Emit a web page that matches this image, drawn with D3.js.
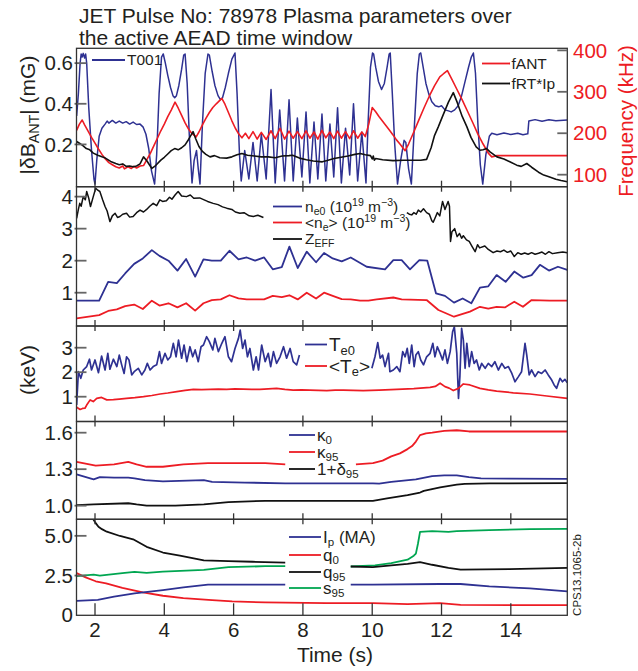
<!DOCTYPE html>
<html>
<head>
<meta charset="utf-8">
<script src="https://cdn.jsdelivr.net/npm/d3@7/dist/d3.min.js"></script>
<style>
  html, body { margin: 0; padding: 0; background: #fff; }
  svg { display: block; font-family: "Liberation Sans", Arial, Helvetica, sans-serif; }
</style>
</head>
<body>
<svg id="chart" width="638" height="671"></svg>
<script>
// ---------------- data ----------------
const titleLines = ["JET Pulse No: 78978 Plasma parameters over", "the active AEAD time window"];
const timeTicks = [2, 4, 6, 8, 10, 12, 14];

// Panel 1: antenna response amplitude (mG, left axis) and frequencies (kHz, right axis)
const t001 = [[1.47,0.34],[1.52,0.45],[1.57,0.6],[1.6,0.645],[1.63,0.63],[1.66,0.648],[1.7,0.625],[1.73,0.645],[1.76,0.6],[1.82,0.38],[1.9,0.17],[1.97,0.03],[2.0,0.005],[2.05,0.12],[2.12,0.24],[2.2,0.28],[2.29,0.3],[2.35,0.315],[2.4,0.305],[2.5,0.318],[2.6,0.305],[2.7,0.315],[2.8,0.305],[2.9,0.312],[3.0,0.3],[3.1,0.31],[3.2,0.298],[3.3,0.3],[3.39,0.285],[3.47,0.25],[3.55,0.18],[3.63,0.07],[3.72,0.005],[3.78,0.15],[3.85,0.45],[3.92,0.63],[3.97,0.645],[4.03,0.6],[4.1,0.54],[4.18,0.48],[4.25,0.44],[4.3,0.43],[4.35,0.44],[4.42,0.49],[4.5,0.57],[4.56,0.64],[4.6,0.645],[4.66,0.5],[4.72,0.25],[4.8,0.01],[4.86,0.12],[4.93,0.17],[4.98,0.08],[5.03,0.005],[5.1,0.3],[5.18,0.55],[5.26,0.645],[5.3,0.64],[5.38,0.56],[5.46,0.49],[5.55,0.44],[5.62,0.42],[5.68,0.43],[5.76,0.48],[5.85,0.55],[5.95,0.62],[6.04,0.65],[6.1,0.45],[6.17,0.15],[6.22,0.02],[6.32,0.17],[6.44,0.03],[6.56,0.21],[6.68,0.02],[6.8,0.25],[6.94,0.03],[7.08,0.47],[7.2,0.01],[7.33,0.37],[7.47,0.02],[7.6,0.42],[7.72,0.02],[7.84,0.33],[7.97,0.04],[8.09,0.36],[8.2,0.01],[8.32,0.31],[8.43,0.03],[8.55,0.35],[8.66,0.02],[8.78,0.3],[8.89,0.04],[9.0,0.38],[9.11,0.01],[9.23,0.28],[9.35,0.05],[9.46,0.4],[9.58,0.02],[9.7,0.26],[9.82,0.01],[9.88,0.3],[9.95,0.58],[10.01,0.65],[10.04,0.645],[10.1,0.58],[10.18,0.51],[10.27,0.47],[10.35,0.5],[10.43,0.58],[10.49,0.645],[10.52,0.65],[10.58,0.45],[10.65,0.2],[10.73,0.005],[10.82,0.12],[10.92,0.22],[10.97,0.21],[11.05,0.08],[11.13,0.005],[11.22,0.3],[11.3,0.55],[11.36,0.645],[11.4,0.65],[11.47,0.58],[11.55,0.5],[11.63,0.45],[11.72,0.41],[11.82,0.39],[11.92,0.385],[12.0,0.39],[12.1,0.37],[12.2,0.365],[12.28,0.36],[12.38,0.37],[12.48,0.39],[12.58,0.44],[12.68,0.51],[12.78,0.58],[12.86,0.63],[12.92,0.65],[12.98,0.55],[13.05,0.3],[13.12,0.1],[13.19,0.005],[13.28,0.15],[13.38,0.24],[13.45,0.255],[13.6,0.248],[13.8,0.256],[14.0,0.249],[14.2,0.255],[14.35,0.248],[14.49,0.252],[14.52,0.315],[14.7,0.322],[14.9,0.314],[15.1,0.321],[15.3,0.316],[15.63,0.32]];
const fAnt = [[1.47,207],[1.55,222],[1.63,232],[1.7,220],[1.8,205],[1.9,190],[2.0,176],[2.1,162],[2.2,149],[2.3,138],[2.4,129],[2.5,124],[2.6,119],[2.7,116],[2.8,121],[2.85,114],[2.95,119],[3.05,115],[3.12,120],[3.2,116],[3.3,121],[3.4,122],[3.5,137],[3.6,152],[3.7,170],[3.8,188],[3.9,206],[4.0,222],[4.1,240],[4.2,256],[4.31,275],[4.4,261],[4.5,243],[4.6,225],[4.7,210],[4.8,199],[4.92,191],[5.0,203],[5.1,220],[5.2,236],[5.3,250],[5.4,262],[5.5,271],[5.66,284],[5.75,270],[5.85,250],[5.95,230],[6.05,212],[6.15,198],[6.24,189],[6.34,200],[6.44,187],[6.56,204],[6.68,186],[6.8,202],[6.94,185],[7.08,206],[7.2,187],[7.34,212],[7.47,186],[7.6,205],[7.72,188],[7.84,204],[7.97,187],[8.09,206],[8.2,188],[8.32,203],[8.43,186],[8.55,207],[8.66,189],[8.78,203],[8.89,187],[9.0,205],[9.11,188],[9.23,204],[9.35,187],[9.46,206],[9.58,188],[9.7,203],[9.8,192],[9.9,222],[10.0,262],[10.1,252],[10.2,240],[10.3,229],[10.4,218],[10.5,207],[10.6,196],[10.7,184],[10.8,174],[10.95,158],[11.05,174],[11.2,203],[11.35,233],[11.5,262],[11.65,290],[11.8,315],[11.95,336],[12.05,343],[12.17,351],[12.3,330],[12.45,305],[12.6,280],[12.75,253],[12.9,226],[13.05,198],[13.2,174],[13.35,152],[13.45,143],[13.6,146],[14.0,146],[14.5,146],[15.0,146],[15.63,146]];
const fRtIp = [[1.47,180],[1.55,176],[1.65,170],[1.75,163],[1.85,160],[1.95,152],[2.08,147],[2.2,143],[2.3,140],[2.45,132],[2.6,127],[2.7,124],[2.8,126],[2.9,120],[3.0,121],[3.1,119],[3.2,121],[3.3,126],[3.4,143],[3.5,133],[3.64,115],[3.75,122],[3.9,135],[4.0,142],[4.1,150],[4.2,158],[4.3,163],[4.4,160],[4.5,165],[4.6,172],[4.7,185],[4.83,204],[4.9,188],[5.0,168],[5.1,156],[5.2,149],[5.32,143],[5.45,146],[5.6,141],[5.8,140],[5.95,143],[6.1,148],[6.24,151],[6.4,147],[6.6,145],[6.8,143],[7.0,143],[7.2,141],[7.4,145],[7.6,146],[7.7,147],[7.9,140],[8.1,136],[8.3,133],[8.56,131],[8.7,134],[8.9,139],[9.1,142],[9.3,145],[9.5,149],[9.65,151],[9.8,148],[9.95,146],[10.0,138],[10.03,145],[10.06,135],[10.1,139],[10.3,136],[10.6,134],[10.9,135],[11.2,135],[11.4,135],[11.57,137],[11.7,165],[11.8,195],[11.91,216],[12.05,245],[12.2,275],[12.34,298],[12.45,275],[12.6,240],[12.73,216],[12.85,190],[13.0,167],[13.11,159],[13.2,160],[13.3,163],[13.4,155],[13.6,143],[13.8,138],[14.0,130],[14.17,123],[14.3,120],[14.46,127],[14.6,118],[14.8,106],[14.95,99],[15.1,95],[15.3,89],[15.45,86],[15.63,83]];

// Panel 2: densities (10^19 m^-3) and Z_EFF
const ne0 = [[1.47,0.75],[2.12,0.75],[2.38,1.34],[2.63,1.3],[2.87,1.6],[3.13,1.9],[3.38,2.07],[3.64,2.33],[3.86,2.15],[4.12,2.0],[4.38,1.69],[4.63,2.05],[4.89,1.5],[5.13,2.04],[5.37,2.0],[5.63,2.0],[5.88,2.31],[6.14,2.04],[6.38,2.1],[6.62,2.0],[6.88,2.1],[7.13,1.73],[7.39,1.8],[7.61,2.44],[7.85,1.77],[8.11,2.28],[8.38,1.95],[8.61,2.24],[8.86,2.07],[9.12,1.98],[9.38,2.1],[9.84,1.81],[10.37,1.73],[10.61,2.02],[10.85,2.02],[11.09,1.73],[11.36,2.02],[11.59,2.0],[11.84,0.98],[12.1,0.9],[12.36,0.69],[12.61,0.82],[12.86,0.67],[13.11,1.16],[13.35,1.2],[13.59,1.55],[13.85,1.34],[14.1,1.66],[14.36,1.47],[14.6,1.55],[14.84,1.87],[15.1,1.69],[15.36,1.81],[15.63,1.71]];
const neAvg = [[1.47,0.2],[2.12,0.3],[2.38,0.43],[2.63,0.48],[2.87,0.58],[3.13,0.63],[3.38,0.49],[3.64,0.75],[3.86,0.6],[4.12,0.67],[4.38,0.54],[4.63,0.67],[4.89,0.44],[5.13,0.67],[5.37,0.77],[5.63,0.79],[5.88,0.92],[6.14,0.82],[6.38,0.79],[6.88,0.79],[7.13,0.9],[7.39,0.86],[7.61,0.92],[7.85,0.79],[8.11,1.0],[8.38,0.82],[8.61,1.0],[8.86,0.9],[9.12,0.8],[9.38,0.79],[9.65,0.75],[9.89,0.75],[10.13,0.79],[10.61,0.85],[10.85,0.79],[11.57,0.77],[11.91,0.46],[12.36,0.25],[12.82,0.41],[13.11,0.56],[13.35,0.5],[13.59,0.56],[13.83,0.54],[14.1,0.72],[14.35,0.56],[14.6,0.77],[15.12,0.75],[15.63,0.75]];
const zEff = [[1.47,3.32],[1.52,3.6],[1.56,3.79],[1.6,3.7],[1.66,4.0],[1.72,3.9],[1.76,4.16],[1.82,3.95],[1.87,3.69],[1.95,4.0],[2.02,4.26],[2.08,4.2],[2.14,4.16],[2.22,3.9],[2.29,3.69],[2.35,3.55],[2.43,3.22],[2.5,3.4],[2.58,3.48],[2.65,3.35],[2.72,3.38],[2.8,3.45],[2.91,3.48],[3.0,3.36],[3.1,3.38],[3.2,3.5],[3.3,3.58],[3.4,3.52],[3.49,3.6],[3.58,3.7],[3.68,3.79],[3.78,3.72],[3.87,3.9],[3.95,3.85],[4.06,3.87],[4.15,3.98],[4.22,3.92],[4.31,4.05],[4.4,4.16],[4.5,4.02],[4.64,4.0],[4.75,4.05],[4.85,3.95],[5.02,3.96],[5.15,3.9],[5.25,3.85],[5.41,3.79],[5.55,3.75],[5.68,3.68],[5.8,3.64],[5.95,3.6],[6.05,3.52],[6.18,3.48],[6.3,3.5],[6.45,3.4],[6.57,3.38],[6.7,3.42],[6.86,3.35],null,[11.0,3.5],[11.07,3.45],[11.14,3.43],[11.2,3.5],[11.27,3.45],[11.33,3.58],[11.4,3.52],[11.48,3.62],[11.57,3.5],[11.65,3.45],[11.72,3.25],[11.76,3.2],[11.82,3.35],[11.88,3.5],[11.95,3.4],[12.03,3.85],[12.1,3.6],[12.19,3.85],[12.23,3.7],[12.26,2.6],[12.3,2.9],[12.38,3.0],[12.45,2.75],[12.52,2.85],[12.58,2.7],[12.63,2.78],[12.72,2.65],[12.8,2.6],[12.88,2.45],[12.97,2.28],[13.04,2.5],[13.1,2.4],[13.25,2.46],[13.35,2.35],[13.49,2.25],[13.6,2.3],[13.7,2.28],[13.8,2.33],[13.9,2.26],[14.0,2.3],[14.1,2.13],[14.2,2.25],[14.3,2.2],[14.4,2.24],[14.5,2.2],[14.6,2.25],[14.7,2.2],[14.8,2.23],[14.9,2.27],[15.0,2.2],[15.1,2.28],[15.2,2.22],[15.35,2.25],[15.5,2.27],[15.63,2.25]];

// Panel 3: electron temperatures (keV)
const te0 = [[1.47,0.66],[1.52,2.02],[1.59,1.75],[1.66,2.09],[1.76,2.23],[1.84,2.53],[1.9,2.09],[2.0,2.5],[2.1,1.98],[2.19,2.66],[2.29,2.09],[2.37,2.77],[2.43,2.12],[2.53,2.53],[2.63,2.23],[2.7,2.7],[2.77,2.3],[2.84,1.95],[2.91,2.63],[2.98,2.5],[3.06,1.89],[3.13,2.02],[3.25,2.16],[3.35,1.89],[3.44,2.09],[3.51,2.36],[3.59,2.09],[3.68,2.23],[3.78,2.3],[3.86,2.84],[3.92,2.36],[4.02,2.77],[4.1,2.5],[4.18,2.63],[4.26,3.18],[4.34,2.63],[4.41,3.31],[4.5,2.57],[4.57,3.11],[4.65,2.43],[4.74,3.04],[4.82,2.63],[4.89,2.91],[4.98,2.43],[5.06,3.04],[5.13,3.11],[5.22,3.45],[5.3,3.25],[5.4,2.91],[5.46,3.38],[5.56,2.84],[5.66,3.18],[5.75,3.45],[5.85,2.63],[5.94,2.43],[6.04,2.97],[6.14,3.38],[6.19,3.72],[6.26,2.97],[6.33,3.31],[6.4,2.63],[6.47,2.97],[6.57,2.09],[6.65,2.63],[6.72,2.09],[6.81,3.11],[6.91,2.43],[7.0,2.77],[7.07,2.23],[7.15,2.84],[7.24,2.36],[7.34,2.63],[7.44,3.04],[7.53,2.57],[7.63,2.97],[7.72,2.43],[7.82,2.3],[7.9,2.7],null,[9.99,2.16],[10.08,2.63],[10.16,3.21],[10.23,2.57],[10.3,2.7],[10.37,2.23],[10.47,2.77],[10.51,2.02],[10.61,2.09],[10.71,2.23],[10.8,2.02],[10.88,2.84],[10.95,2.63],[11.01,2.97],[11.07,2.36],[11.14,3.11],[11.21,2.23],[11.26,2.7],[11.33,2.84],[11.4,2.5],[11.48,2.3],[11.57,2.63],[11.67,2.77],[11.75,3.18],[11.81,2.63],[11.88,3.04],[11.96,2.77],[12.03,2.5],[12.1,2.91],[12.17,2.36],[12.25,2.84],[12.32,3.65],[12.37,3.85],[12.44,2.77],[12.49,0.93],[12.53,1.82],[12.58,3.79],[12.63,3.31],[12.68,2.16],[12.73,3.18],[12.8,2.23],[12.87,2.84],[12.94,2.36],[13.01,2.5],[13.09,2.09],[13.16,2.36],[13.26,2.16],[13.35,2.36],[13.45,2.23],[13.54,2.43],[13.64,2.09],[13.74,2.36],[13.83,2.16],[13.93,2.23],[14.03,1.95],[14.12,1.61],[14.22,1.82],[14.31,2.02],[14.41,3.18],[14.46,2.7],[14.53,1.89],[14.6,2.09],[14.7,1.82],[14.79,2.02],[14.89,1.95],[14.99,2.09],[15.08,1.89],[15.18,1.68],[15.25,1.48],[15.32,1.34],[15.42,1.75],[15.49,1.61],[15.56,1.71],[15.63,1.57]];
const teAvg = [[1.47,0.57],[1.57,0.48],[1.64,0.52],[1.71,0.53],[1.76,0.66],[1.86,0.87],[1.95,0.8],[2.05,0.93],[2.19,0.97],[2.34,0.87],[2.53,0.88],[2.7,0.9],[2.91,0.93],[3.15,0.96],[3.4,1.0],[3.64,1.05],[3.88,1.11],[4.1,1.15],[4.36,1.21],[4.6,1.26],[4.84,1.3],[5.08,1.29],[5.32,1.3],[5.56,1.31],[5.8,1.3],[6.04,1.32],[6.28,1.31],[6.52,1.3],[6.76,1.3],[7.0,1.32],[7.24,1.34],[7.48,1.3],[7.72,1.27],[7.96,1.28],[8.2,1.27],[8.44,1.26],[8.69,1.25],[8.93,1.27],[9.17,1.27],[9.45,1.26],[9.74,1.25],[10.2,1.27],[10.71,1.3],[11.2,1.33],[11.67,1.38],[11.82,1.42],[11.96,1.55],[12.1,1.41],[12.22,1.35],[12.34,1.25],[12.49,1.34],[12.63,1.52],[12.82,1.48],[13.11,1.34],[13.35,1.28],[13.59,1.23],[14.07,1.16],[14.55,1.11],[15.04,1.03],[15.63,0.93]];

// Panel 4: shape parameters
const kappa0 = [[1.47,1.257],[1.96,1.216],[2.14,1.235],[2.55,1.23],[2.96,1.23],[3.14,1.225],[3.44,1.21],[3.96,1.2],[5.14,1.21],[5.38,1.195],[6.32,1.19],[7.49,1.184],[8.67,1.184],[10.02,1.184],[10.2,1.181],[10.55,1.195],[11.26,1.216],[11.73,1.243],[12.08,1.249],[12.44,1.249],[12.79,1.235],[13.14,1.224],[13.96,1.222],[15.63,1.22]];
const kappa95 = [[1.47,1.36],[2.02,1.33],[2.55,1.34],[2.96,1.36],[3.2,1.34],[3.49,1.32],[3.96,1.32],[4.55,1.34],[5.26,1.35],[5.96,1.35],[6.91,1.35],[7.49,1.34],null,[9.53,1.34],[10.02,1.35],[10.3,1.37],[10.55,1.405],[10.8,1.43],[11.02,1.465],[11.15,1.49],[11.26,1.527],[11.38,1.58],[11.55,1.595],[11.73,1.6],[12.08,1.615],[12.44,1.62],[12.79,1.61],[13.02,1.61],[13.96,1.61],[15.63,1.61]];
const delta95 = [[1.47,1.005],[1.96,1.01],[2.96,1.02],[3.2,1.01],[3.49,1.0],[4.32,1.0],[5.14,1.01],[5.85,1.03],[6.91,1.04],[8.67,1.04],[10.02,1.04],[10.43,1.06],[11.02,1.086],[11.38,1.108],[11.49,1.122],[11.96,1.15],[12.44,1.173],[12.67,1.18],[13.38,1.183],[15.63,1.186]];

// Panel 5: plasma current (MA) and safety factors
const ip = [[1.47,0.91],[2.08,0.97],[2.55,1.17],[3.14,1.38],[3.96,1.59],[4.55,1.76],[5.26,1.93],[6.32,1.93],[7.49,1.93],null,[9.38,1.93],[10.02,1.93],[11.96,1.97],[12.55,1.97],[13.38,1.82],[14.55,1.69],[15.63,1.5]];
const q0 = [[1.47,2.65],[1.73,2.39],[2.02,2.14],[2.32,2.01],[2.79,1.72],[3.38,1.44],[3.96,1.23],[4.55,1.08],[5.38,0.95],[5.96,0.87],[6.91,0.81],[8.67,0.76],[10.02,0.76],[11.02,0.7],[11.96,0.76],[12.55,0.66],[13.96,0.64],[15.63,0.64]];
const q95 = [[1.95,6.04],[2.02,5.8],[2.1,5.57],[2.2,5.42],[2.34,5.26],[2.72,4.99],[3.1,4.78],[3.49,4.31],[3.96,3.95],[4.45,3.75],[5.14,3.45],[5.85,3.41],[6.55,3.37],[7.49,3.31],null,[9.38,3.07],[10.02,3.03],[10.55,3.14],[11.02,3.24],[11.38,3.35],[11.73,3.18],[12.2,2.99],[12.55,2.88],[13.96,2.9],[15.63,2.99]];
const s95 = [[1.47,2.46],[1.96,2.56],[2.14,2.5],[2.79,2.65],[3.14,2.73],[3.49,2.67],[3.96,2.75],[5.14,2.86],[5.85,3.03],[6.91,3.09],[7.49,3.09],null,[9.38,3.07],[10.08,3.14],[10.55,3.28],[11.02,3.5],[11.2,3.75],[11.26,3.88],[11.32,4.5],[11.38,5.25],[11.73,5.3],[12.2,5.25],[12.44,5.3],[13.38,5.36],[14.55,5.42],[15.63,5.44]];

const leftTickValues = [[0.2,0.4,0.6],[1,2,3,4],[1,2,3],[1.0,1.3,1.6],[0,2.5,5.0]];
const leftTickLabels = [["0.2","0.4","0.6"],["1","2","3","4"],["1","2","3"],["1.0","1.3","1.6"],["0","2.5","5.0"]];
const freqTickValues = [100, 200, 300, 400];

// ---------------- layout ----------------
const BLUE = "#2e3192", RED = "#ed1c24", BLACK = "#111", GREEN = "#00a651";
const X0 = 76.5, X1 = 567.3;
const panels = [
  {top: 48.3,  bottom: 186.7, domain: [-0.008, 0.673]},
  {top: 186.7, bottom: 326,   domain: [-0.04, 4.31]},
  {top: 326,   bottom: 421.5, domain: [-0.012, 3.886]},
  {top: 421.5, bottom: 519.3, domain: [0.888, 1.692]},
  {top: 519.3, bottom: 615.3, domain: [0, 6.04]}
];

const svg = d3.select("#chart");
const x = d3.scaleLinear().domain([1.466, 15.63]).range([X0, X1]);
panels.forEach(p => { p.y = d3.scaleLinear().domain(p.domain).range([p.bottom, p.top]); });
const yFreq = d3.scaleLinear().domain([71, 405]).range([panels[0].bottom, panels[0].top]);

// rich text helper: parts are strings or [text, "sub"|"sup"]
function rich(textSel, parts, fs) {
  let shift = 0;
  parts.forEach(p => {
    const [str, kind] = typeof p === "string" ? [p, ""] : p;
    const target = kind === "sub" ? 0.18 : kind === "sup" ? -0.38 : 0;
    const ts = textSel.append("tspan").text(str);
    if (kind) ts.attr("font-size", (fs * 0.68).toFixed(2) + "px");
    const dy = (target - shift) * fs;
    if (dy !== 0) ts.attr("dy", dy.toFixed(2));
    shift = target;
  });
}

// clip paths
const defs = svg.append("defs");
panels.forEach((p, i) => {
  defs.append("clipPath").attr("id", "clip" + i)
    .append("rect").attr("x", X0).attr("y", p.top).attr("width", X1 - X0).attr("height", p.bottom - p.top);
});

function drawSeries(i, data, yScale, color, width) {
  const line = d3.line().defined(d => d !== null).x(d => x(d[0])).y(d => yScale(d[1]));
  svg.append("path").attr("clip-path", `url(#clip${i})`)
    .attr("d", line(data)).attr("fill", "none").attr("stroke", color)
    .attr("stroke-width", width).attr("stroke-linejoin", "round");
}

// series
drawSeries(0, t001, panels[0].y, BLUE, 1.5);
drawSeries(0, fAnt, yFreq, RED, 1.6);
drawSeries(0, fRtIp, yFreq, BLACK, 1.6);
drawSeries(1, zEff, panels[1].y, BLACK, 1.5);
drawSeries(1, ne0, panels[1].y, BLUE, 1.8);
drawSeries(1, neAvg, panels[1].y, RED, 1.8);
drawSeries(2, te0, panels[2].y, BLUE, 1.7);
drawSeries(2, teAvg, panels[2].y, RED, 1.7);
drawSeries(3, kappa95, panels[3].y, RED, 1.8);
drawSeries(3, kappa0, panels[3].y, BLUE, 1.8);
drawSeries(3, delta95, panels[3].y, BLACK, 1.8);
drawSeries(4, q0, panels[4].y, RED, 1.8);
drawSeries(4, ip, panels[4].y, BLUE, 1.8);
drawSeries(4, s95, panels[4].y, GREEN, 1.8);
drawSeries(4, q95, panels[4].y, BLACK, 1.8);

// frames and ticks
panels.forEach((p, i) => {
  const g = svg.append("g");
  const last = i === panels.length - 1;
  // time ticks (inward at bottom, and at top for lower panels)
  timeTicks.forEach(t => {
    g.append("line").attr("x1", x(t)).attr("x2", x(t))
      .attr("y1", p.bottom).attr("y2", p.bottom - (last ? 12 : 6))
      .attr("stroke", "#333").attr("stroke-width", 1.3);
    if (i > 0) g.append("line").attr("x1", x(t)).attr("x2", x(t))
      .attr("y1", p.top).attr("y2", p.top + 5)
      .attr("stroke", "#333").attr("stroke-width", 1.3);
  });
  // left value ticks
  leftTickValues[i].forEach((v, k) => {
    const yy = p.y(v);
    if (!(last && v === 0)) {
      g.append("line").attr("x1", X0 - 2).attr("x2", X0 + 10).attr("y1", yy).attr("y2", yy)
        .attr("stroke", "#666").attr("stroke-width", 1.8);
    }
    g.append("text").attr("x", 73).attr("y", yy).attr("dy", "0.35em")
      .attr("text-anchor", "end").attr("font-size", 20.5).attr("fill", "#231f20")
      .text(leftTickLabels[i][k]);
  });
  g.append("rect").attr("x", X0).attr("y", p.top).attr("width", X1 - X0).attr("height", p.bottom - p.top)
    .attr("fill", "none").attr("stroke", "#333").attr("stroke-width", 1.3);
});

// right frequency axis on the first panel
freqTickValues.forEach(v => {
  const yy = yFreq(v);
  svg.append("line").attr("x1", X1 - 10).attr("x2", X1).attr("y1", yy).attr("y2", yy)
    .attr("stroke", "#666").attr("stroke-width", 1.8);
  svg.append("text").attr("x", 573).attr("y", yy).attr("dy", "0.35em")
    .attr("font-size", 20.5).attr("fill", RED).text(v);
});

// time labels
timeTicks.forEach(t => {
  svg.append("text").attr("x", x(t)).attr("y", 636.5).attr("text-anchor", "middle")
    .attr("font-size", 20.5).attr("fill", "#231f20").text(t);
});
svg.append("text").attr("x", 335).attr("y", 662).attr("text-anchor", "middle")
  .attr("font-size", 21).attr("fill", "#231f20").text("Time (s)");

// title
titleLines.forEach((s, k) => {
  svg.append("text").attr("x", 79).attr("y", 23 + k * 21.5).attr("font-size", 21)
    .attr("fill", "#231f20").text(s);
});

// axis titles
const yt1 = svg.append("text").attr("transform", "translate(28,115) rotate(-90)")
  .attr("text-anchor", "middle").attr("dy", "0.35em").attr("font-size", 21).attr("fill", "#231f20");
rich(yt1, ["|δB", ["ANT", "sub"], "| (mG)"], 21);
svg.append("text").attr("transform", "translate(28,370) rotate(-90)")
  .attr("text-anchor", "middle").attr("dy", "0.35em").attr("font-size", 21).attr("fill", "#231f20")
  .text("(keV)");
svg.append("text").attr("transform", "translate(626,121) rotate(-90)")
  .attr("text-anchor", "middle").attr("dy", "0.35em").attr("font-size", 20.5).attr("fill", RED)
  .text("Frequency (kHz)");
svg.append("text").attr("transform", "translate(577,575) rotate(-90)")
  .attr("text-anchor", "middle").attr("dy", "0.35em").attr("font-size", 11.5).attr("fill", "#231f20")
  .text("CPS13.1065-2b");

// legends
function legend(rows, lx0, lx1, tx, fs) {
  rows.forEach(r => {
    svg.append("line").attr("x1", lx0).attr("x2", lx1).attr("y1", r.y).attr("y2", r.y)
      .attr("stroke", r.color).attr("stroke-width", 1.8);
    const t = svg.append("text").attr("x", tx).attr("y", r.y).attr("dy", "0.35em")
      .attr("font-size", fs).attr("fill", "#231f20");
    rich(t, r.parts, fs);
  });
}
legend([{y: 60, color: BLUE, parts: ["T001"]}], 92, 125, 127, 15.5);
legend([{y: 63.5, color: RED, parts: ["fANT"]}, {y: 83.5, color: BLACK, parts: ["fRT*Ip"]}], 482, 510, 511.5, 15.5);
legend([
  {y: 206.5, color: BLUE, parts: ["n", ["e0", "sub"], " (10", ["19", "sup"], " m", ["−3", "sup"], ")"]},
  {y: 222.5, color: RED, parts: ["<n", ["e", "sub"], "> (10", ["19", "sup"], " m", ["−3", "sup"], ")"]},
  {y: 239, color: BLACK, parts: ["Z", ["EFF", "sub"]]}
], 273, 302, 305, 15.5);
legend([
  {y: 344.5, color: BLUE, parts: ["T", ["e0", "sub"]]},
  {y: 366, color: RED, parts: ["<T", ["e", "sub"], ">"]}
], 305, 327, 329, 19);
legend([
  {y: 435, color: BLUE, parts: ["κ", ["0", "sub"]]},
  {y: 452, color: RED, parts: ["κ", ["95", "sub"]]},
  {y: 469, color: BLACK, parts: ["1+δ", ["95", "sub"]]}
], 289, 315, 317, 17);
legend([
  {y: 537, color: BLUE, parts: ["I", ["p", "sub"], " (MA)"]},
  {y: 555, color: RED, parts: ["q", ["0", "sub"]]},
  {y: 572, color: BLACK, parts: ["q", ["95", "sub"]]},
  {y: 588, color: GREEN, parts: ["s", ["95", "sub"]]}
], 289, 321, 323, 17);
</script>
</body>
</html>
